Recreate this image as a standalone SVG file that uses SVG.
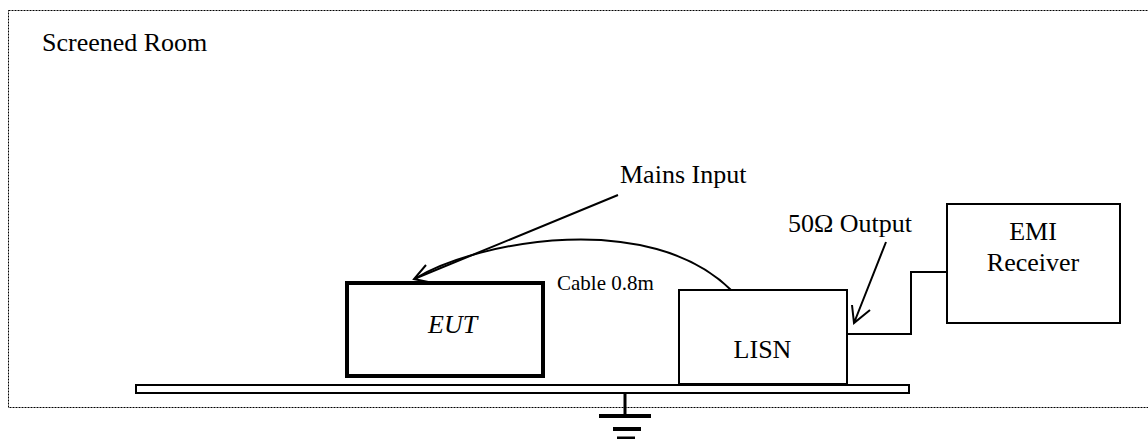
<svg xmlns="http://www.w3.org/2000/svg" width="1148" height="439" viewBox="0 0 1148 439">
<style>
text{font-family:"Liberation Serif","Times New Roman",serif;fill:#000}
.t{font-size:26px}
.box{fill:#fff;stroke:#000;stroke-width:2}
.ln{fill:none;stroke:#000;stroke-width:2}
</style>
<rect x="0" y="0" width="1148" height="439" fill="#fff"/>
<g id="screened-room">
<rect x="8.5" y="10.5" width="1150" height="397" fill="none" stroke="#000" stroke-width="1" stroke-dasharray="2 1"/>
<text class="t" x="42" y="51">Screened Room</text>
</g>
<g id="ground-plane">
<rect x="136" y="385" width="773" height="8" fill="#fff" stroke="#000" stroke-width="2"/>
</g>
<g id="ground">
<line x1="625" y1="394" x2="625" y2="416" stroke="#000" stroke-width="3"/>
<line x1="599" y1="416" x2="651" y2="416" stroke="#000" stroke-width="4"/>
<line x1="613" y1="429" x2="641" y2="429" stroke="#000" stroke-width="4"/>
<line x1="617" y1="438" x2="635" y2="438" stroke="#000" stroke-width="3"/>
</g>
<g id="eut">
<rect x="347" y="283" width="196" height="93" fill="#fff" stroke="#000" stroke-width="4"/>
<text class="t" x="428" y="333" font-style="italic">EUT</text>
</g>
<g id="lisn">
<rect class="box" x="679" y="290" width="168" height="94"/>
<text class="t" x="762.5" y="358" text-anchor="middle">LISN</text>
</g>
<g id="emi-receiver">
<rect class="box" x="947" y="204" width="173" height="119"/>
<text class="t" x="1033" y="240" text-anchor="middle">EMI</text>
<text class="t" x="1033" y="271" text-anchor="middle">Receiver</text>
</g>
<g id="connectors">
<path class="ln" d="M416,278 C480,240 650,210 731,290"/>
<path class="ln" d="M847,334 H911 V272 H946"/>
<path class="ln" d="M618,195 L414,279 M426,265 L414,279 L433,283"/>
<path class="ln" d="M886,242 L854,323 M852,305 L854,323 L870,310"/>
</g>
<g id="labels">
<text class="t" x="620" y="183">Mains Input</text>
<text class="t" x="788" y="232">50Ω Output</text>
<text x="557" y="290" font-size="21px">Cable 0.8m</text>
</g>
</svg>
